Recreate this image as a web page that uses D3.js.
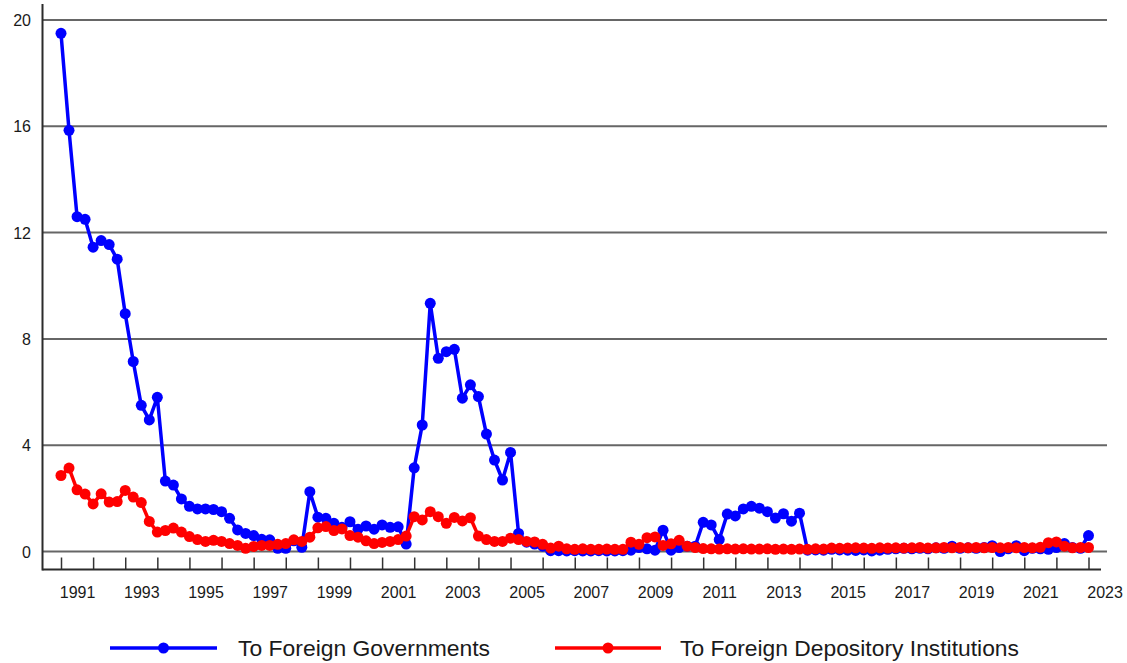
<!DOCTYPE html>
<html>
<head>
<meta charset="utf-8">
<script src="https://cdn.jsdelivr.net/npm/d3@7"></script>
<style>
  html, body { margin: 0; padding: 0; background: #ffffff; }
  svg { display: block; font-family: "Liberation Sans", Arial, sans-serif; }
</style>
</head>
<body>
<svg id="chart" width="1127" height="663"></svg>
<script>
// Quarterly series, first observation 1990 Q4 (plotted at the 1991 year boundary)
const firstYear = 1991;

const foreignGovernments = [
  19.5, 15.85, 12.6, 12.5, 11.45, 11.7, 11.55, 11.0,
  8.95, 7.15, 5.5, 4.95, 5.8, 2.65, 2.5, 1.98,
  1.7, 1.6, 1.6, 1.58, 1.5, 1.25, 0.81, 0.68,
  0.6, 0.46, 0.44, 0.12, 0.12, 0.4, 0.16, 2.25,
  1.29, 1.25, 1.06, 0.91, 1.12, 0.84, 0.96, 0.84,
  1.0, 0.91, 0.93, 0.28, 3.15, 4.76, 9.34, 7.27,
  7.52, 7.61, 5.77, 6.27, 5.83, 4.42, 3.44, 2.69,
  3.73, 0.68, 0.35, 0.28, 0.2, 0.03, 0.03, 0.02,
  0.03, 0.02, 0.02, 0.03, 0.02, 0.02, 0.03, 0.05,
  0.15, 0.1, 0.05, 0.8, 0.05, 0.15, 0.2, 0.2,
  1.1, 1.0, 0.45, 1.41, 1.34, 1.6, 1.7, 1.63,
  1.5, 1.26, 1.42, 1.14, 1.44, 0.05, 0.06, 0.05,
  0.08, 0.06, 0.05, 0.04, 0.06, 0.02, 0.05, 0.08,
  0.1, 0.12, 0.1, 0.12, 0.1, 0.14, 0.12, 0.2,
  0.12, 0.14, 0.12, 0.15, 0.22, 0.0, 0.1, 0.22,
  0.03, 0.12, 0.1, 0.08, 0.15, 0.3, 0.15, 0.12,
  0.6
];

const foreignDepository = [
  2.86, 3.14, 2.32, 2.16, 1.79, 2.17, 1.86, 1.88,
  2.3, 2.05, 1.84, 1.13, 0.73, 0.79, 0.88, 0.73,
  0.56, 0.45, 0.38, 0.42, 0.38, 0.3, 0.23, 0.12,
  0.19, 0.23, 0.23, 0.27, 0.3, 0.44, 0.38, 0.54,
  0.89, 0.94, 0.79, 0.85, 0.6, 0.54, 0.4, 0.3,
  0.34, 0.38, 0.45, 0.58, 1.31, 1.19, 1.5, 1.31,
  1.06, 1.28, 1.15, 1.27, 0.58, 0.45, 0.38, 0.38,
  0.5, 0.45, 0.38, 0.36, 0.27, 0.13, 0.2, 0.1,
  0.08, 0.1, 0.08, 0.08, 0.09, 0.08, 0.08, 0.35,
  0.27, 0.52, 0.55, 0.23, 0.29, 0.42, 0.2, 0.15,
  0.11, 0.1, 0.09, 0.1, 0.09, 0.1, 0.09, 0.09,
  0.1, 0.08, 0.09, 0.08, 0.09, 0.08, 0.1, 0.09,
  0.13, 0.12, 0.13, 0.14, 0.13, 0.12, 0.14, 0.13,
  0.14, 0.13, 0.14, 0.15, 0.13, 0.14, 0.15, 0.14,
  0.15, 0.14, 0.15, 0.14, 0.15, 0.14, 0.15, 0.14,
  0.15, 0.14, 0.16, 0.33, 0.36, 0.2, 0.14, 0.15,
  0.15
];

const yTicks = [0, 4, 8, 12, 16, 20];
const yearTicks = d3.range(1991, 2024);
const yearLabels = d3.range(1991, 2024, 2);

const seriesNames = ["To Foreign Governments", "To Foreign Depository Institutions"];
const seriesColors = ["#0000ff", "#ff0000"];

const svg = d3.select("#chart");

const x = d3.scaleLinear().domain([1991, 2023]).range([61, 1088.5]);
const y = d3.scaleLinear().domain([0, 20]).range([551.5, 20]);

const plotLeft = 42.5, plotRight = 1107, axisY = 569.5;

// horizontal gridlines
svg.append("g")
  .selectAll("line")
  .data(yTicks)
  .join("line")
  .attr("x1", plotLeft).attr("x2", plotRight)
  .attr("y1", d => y(d)).attr("y2", d => y(d))
  .attr("stroke", "#666666").attr("stroke-width", 2);

// y tick labels
const yAxis = d3.axisLeft(y).tickValues(yTicks).tickSize(0).tickPadding(0);
const yG = svg.append("g").attr("transform", `translate(31,0)`).call(yAxis);
yG.select(".domain").remove();
yG.selectAll("text")
  .attr("font-size", 16).attr("fill", "#1a1a1a")
  .attr("font-family", "Liberation Sans, Arial, sans-serif")
  .attr("dy", "0.35em");

// left axis line
svg.append("line")
  .attr("x1", plotLeft).attr("x2", plotLeft)
  .attr("y1", 4).attr("y2", axisY + 1)
  .attr("stroke", "#2b2b2b").attr("stroke-width", 2);

// bottom axis with year ticks pointing up
const xTickAxis = d3.axisBottom(x).tickValues(yearTicks).tickSize(-12).tickFormat("");
const xG = svg.append("g").attr("transform", `translate(0,${axisY})`).call(xTickAxis);
xG.select(".domain").remove();
xG.selectAll(".tick line").attr("stroke", "#333").attr("stroke-width", 1.5);

svg.append("line")
  .attr("x1", plotLeft).attr("x2", 1101)
  .attr("y1", axisY).attr("y2", axisY)
  .attr("stroke", "#2b2b2b").attr("stroke-width", 2);

// year labels centred in each labelled year
const xLabelAxis = d3.axisBottom(x).tickValues(yearLabels.map(d => d + 0.5))
  .tickSize(0).tickPadding(0).tickFormat(d => String(Math.floor(d)));
const xlG = svg.append("g").attr("transform", `translate(0,598)`).call(xLabelAxis);
xlG.select(".domain").remove();
xlG.selectAll("text")
  .attr("font-size", 16).attr("fill", "#1a1a1a")
  .attr("font-family", "Liberation Sans, Arial, sans-serif")
  .attr("dy", 0);

// series
const line = d3.line().x((d, i) => x(firstYear + i / 4)).y(d => y(d));
[foreignGovernments, foreignDepository].forEach((vals, k) => {
  const g = svg.append("g");
  g.append("path")
    .attr("d", line(vals))
    .attr("fill", "none")
    .attr("stroke", seriesColors[k])
    .attr("stroke-width", 3.5)
    .attr("stroke-linejoin", "round");
  g.selectAll("circle")
    .data(vals)
    .join("circle")
    .attr("cx", (d, i) => x(firstYear + i / 4))
    .attr("cy", d => y(d))
    .attr("r", 5.5)
    .attr("fill", seriesColors[k]);
});

// legend
const legendItems = [
  { x0: 110, x1: 217, tx: 238, w: 252 },
  { x0: 555, x1: 661, tx: 680, w: 339 }
];
const legendY = 648;
legendItems.forEach((it, k) => {
  const g = svg.append("g");
  g.append("line")
    .attr("x1", it.x0).attr("x2", it.x1)
    .attr("y1", legendY).attr("y2", legendY)
    .attr("stroke", seriesColors[k]).attr("stroke-width", 3.5);
  g.append("circle")
    .attr("cx", (it.x0 + it.x1) / 2).attr("cy", legendY).attr("r", 5.5)
    .attr("fill", seriesColors[k]);
  g.append("text")
    .attr("x", it.tx).attr("y", legendY).attr("dy", "0.35em")
    .attr("font-size", 22).attr("fill", "#1a1a1a")
    .attr("textLength", it.w).attr("lengthAdjust", "spacingAndGlyphs")
    .text(seriesNames[k]);
});
</script>
</body>
</html>
